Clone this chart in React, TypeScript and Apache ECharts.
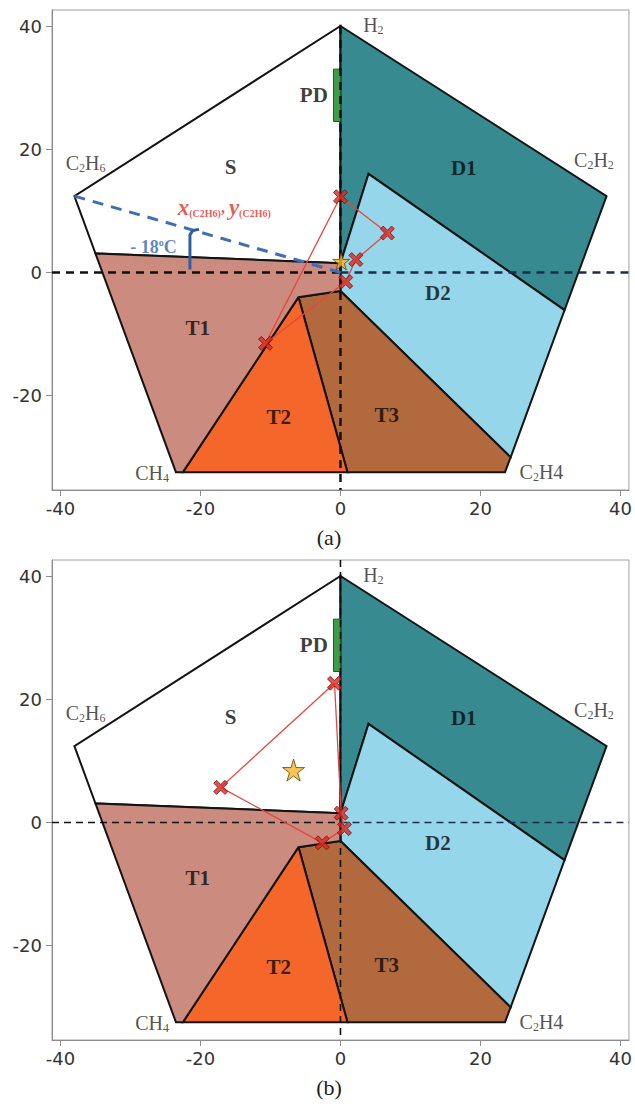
import React, { useEffect, useRef } from 'react';
import * as echarts from 'echarts';

// Axis extents and tick marks (shared by both panels)
const X_RANGE = [-41.2, 41.2];
const Y_RANGE = [-35.3, 42.6];
const X_TICKS = [-40, -20, 0, 20, 40];
const Y_TICKS = [-20, 0, 20, 40];

// Duval pentagon fault zones
const ZONE_NAMES = ['S', 'D1', 'D2', 'T3', 'T2', 'T1', 'PD'];
const ZONE_COLORS = ['#ffffff', '#378a90', '#95d6eb', '#b3693e', '#f4662a', '#cb8b7e', '#3f9a4a'];
const ZONE_POINTS = [
  [[0, 1.5], [-35, 3.1], [-38, 12.4], [0, 40]],
  [[0, 40], [38, 12.4], [32, -6.1], [4, 16], [0, 1.5]],
  [[4, 16], [32, -6.1], [24.3, -30], [0, -3], [0, 1.5]],
  [[0, -3], [24.3, -30], [23.5, -32.4], [1, -32.4], [-6, -4]],
  [[-6, -4], [1, -32.4], [-22.5, -32.4]],
  [[-6, -4], [-22.5, -32.4], [-23.5, -32.4], [-35, 3.1], [0, 1.5], [0, -3]],
  [[-1, 33], [0, 33], [0, 24.5], [-1, 24.5]],
];
const ZONE_LABEL_X = [-15.7, 17.6, 13.9, 6.6, -8.8, -20.4, -3.8];
const ZONE_LABEL_Y = [17.1, 16.9, -3.4, -23.1, -23.4, -9.0, 28.8];

// Gas vertices of the pentagon
const VERTEX_TEXT = ['{n|H}{s|2}', '{n|C}{s|2}{n|H}{s|2}', '{n|C}{s|2}{n|H}{s|6}', '{n|CH}{s|4}', '{n|C}{s|2}{n|H4}'];
const VERTEX_X = [4.7, 36.2, -36.4, -26.9, 28.7];
const VERTEX_Y = [40.1, 18.2, 17.7, -32.5, -32.3];

// Gas points and centroid, panel (a)
const PTS_A_X = [0.0, 6.7, 2.2, 0.75, -10.7];
const PTS_A_Y = [12.3, 6.4, 2.1, -1.5, -11.5];
const STAR_A = [0.1, 1.8];

// Gas points and centroid, panel (b)
const PTS_B_X = [-0.85, -17.1, -2.6, 0.57, 0.1];
const PTS_B_Y = [22.6, 5.7, -3.3, -1.0, 1.5];
const STAR_B = [-6.7, 8.5];

// C2H6 axis and angle mark, panel (a)
const C2H6_AXIS = [[-38, 12.4], [0, 0]];
const ANGLE_MARK = [[-21.5, 0.5], [-21.5, 6.1], [-21.1, 6.8], [-20.2, 7.0]];
const ANGLE_LABEL = [-26.7, 4.1];
const COORD_LABEL = [-16.6, 10.6];

const CAPTIONS = ['(a)', '(b)'];
const GRID_TOPS = [10, 560];
const GRID_HEIGHT = 480;

const X_SYMBOL = 'path://M0,2 L2,0 L5,3 L8,0 L10,2 L7,5 L10,8 L8,10 L5,7 L2,10 L0,8 L3,5 Z';
const STAR_SYMBOL = 'path://M50,0 L61,35 L98,35 L68,57 L79,91 L50,70 L21,91 L32,57 L2,35 L39,35 Z';

const SERIF = '"Liberation Serif", "Times New Roman", serif';

function panelSeries(p: number): any[] {
  const ax = { xAxisIndex: p, yAxisIndex: p };
  const xs = p === 0 ? PTS_A_X : PTS_B_X;
  const ys = p === 0 ? PTS_A_Y : PTS_B_Y;
  const star = p === 0 ? STAR_A : STAR_B;
  const ring = xs.map((x, i) => [x, ys[i]]);
  ring.push([xs[0], ys[0]]);
  const dashW = p === 0 ? 2.5 : 1.6;
  const dashT = p === 0 ? [8, 6] : [7, 5];
  const yTop = p === 0 ? 40 : Y_RANGE[1];

  const series: any[] = [
    {
      type: 'custom',
      ...ax,
      silent: true,
      z: 1,
      data: ZONE_NAMES.map((_, i) => [i, 0]),
      renderItem: (params: any, api: any) => {
        const i = params.dataIndex;
        return {
          type: 'polygon',
          shape: { points: ZONE_POINTS[i].map((pt) => api.coord(pt)) },
          style: {
            fill: ZONE_COLORS[i],
            stroke: i === 6 ? '#1f5a27' : '#141414',
            lineWidth: i === 6 ? 1 : 2,
          },
        };
      },
    },
    {
      type: 'line', ...ax, silent: true, z: 3, symbol: 'none',
      data: [[0, yTop], [0, Y_RANGE[0]]],
      lineStyle: { color: '#111', width: dashW, type: dashT },
    },
    {
      type: 'line', ...ax, silent: true, z: 3, symbol: 'none',
      data: [[X_RANGE[0], 0], [0, 0]],
      lineStyle: { color: '#111', width: dashW, type: dashT },
    },
    {
      type: 'line', ...ax, silent: true, z: 3, symbol: 'none',
      data: [[0, 0], [X_RANGE[1], 0]],
      lineStyle: { color: '#1c2d50', width: dashW, type: dashT },
    },
  ];

  if (p === 0) {
    series.push(
      {
        type: 'line', ...ax, silent: true, z: 4, symbol: 'none',
        data: C2H6_AXIS,
        lineStyle: { color: '#3d6fb6', width: 3, type: [11, 8] },
      },
      {
        type: 'line', ...ax, silent: true, z: 4, symbol: 'none',
        data: ANGLE_MARK,
        lineStyle: { color: '#2f5f9e', width: 3 },
      },
      {
        type: 'scatter', ...ax, silent: true, z: 8, symbolSize: 1,
        itemStyle: { color: 'rgba(0,0,0,0)' },
        data: [
          {
            value: ANGLE_LABEL,
            label: {
              show: true, position: 'inside',
              formatter: '{t|- 18}{sup|o}{t|C}',
              rich: {
                t: { fontFamily: SERIF, fontWeight: 'bold', fontSize: 18, color: '#3565ad', lineHeight: 20 },
                sup: { fontFamily: SERIF, fontWeight: 'bold', fontSize: 10, color: '#3565ad', lineHeight: 10, verticalAlign: 'top' },
              },
            },
          },
          {
            value: COORD_LABEL,
            label: {
              show: true, position: 'inside',
              formatter: '{v|x}{s|(C2H6)}{c|, }{v|y}{s|(C2H6)}',
              rich: {
                v: { fontFamily: SERIF, fontStyle: 'italic', fontWeight: 'bold', fontSize: 23, color: '#e5321f', lineHeight: 22 },
                s: { fontFamily: SERIF, fontWeight: 'bold', fontSize: 10, color: '#e5321f', lineHeight: 12, verticalAlign: 'bottom' },
                c: { fontFamily: SERIF, fontWeight: 'bold', fontSize: 16, color: '#e5321f', lineHeight: 22 },
              },
            },
          },
        ],
      }
    );
  }

  series.push(
    {
      type: 'line', ...ax, silent: true, z: 5, symbol: 'none',
      data: ring,
      lineStyle: { color: '#e8453c', width: 1.3 },
    },
    {
      type: 'scatter', ...ax, silent: true, z: 6,
      symbol: STAR_SYMBOL, symbolSize: p === 0 ? 17 : 22,
      itemStyle: { color: '#f6b42a', borderColor: '#5c4308', borderWidth: 1 },
      data: [star],
    },
    {
      type: 'scatter', ...ax, silent: true, z: 7,
      symbol: X_SYMBOL, symbolSize: 14,
      itemStyle: { color: '#d8291f', borderColor: '#7a0f0f', borderWidth: 1 },
      data: xs.map((x, i) => [x, ys[i]]),
    },
    {
      type: 'scatter', ...ax, silent: true, z: 8, symbolSize: 1,
      itemStyle: { color: 'rgba(0,0,0,0)' },
      data: ZONE_NAMES.map((n, i) => ({
        value: [ZONE_LABEL_X[i], ZONE_LABEL_Y[i]],
        label: {
          show: true, position: 'inside', formatter: n,
          fontFamily: SERIF, fontWeight: 'bold', fontSize: 21, color: '#0a0a0a',
        },
      })),
    },
    {
      type: 'scatter', ...ax, silent: true, z: 8, symbolSize: 1,
      itemStyle: { color: 'rgba(0,0,0,0)' },
      data: VERTEX_TEXT.map((t, i) => ({
        value: [VERTEX_X[i], VERTEX_Y[i]],
        label: {
          show: true, position: 'inside', formatter: t,
          rich: {
            n: { fontFamily: SERIF, fontSize: 20, color: '#262626', lineHeight: 22 },
            s: { fontFamily: SERIF, fontSize: 12, color: '#262626', lineHeight: 12, verticalAlign: 'bottom' },
          },
        },
      })),
    }
  );
  return series;
}

export default function App() {
  const ref = useRef<HTMLDivElement>(null);

  useEffect(() => {
    if (!ref.current) return;
    const chart = echarts.init(ref.current, null, { renderer: 'svg' });
    const axisColor = '#8c8c8c';
    const labelStyle = { fontFamily: '"DejaVu Sans", Arial, sans-serif', fontSize: 18, color: '#333' };

    chart.setOption({
      animation: false,
      backgroundColor: '#ffffff',
      grid: GRID_TOPS.map((top) => ({
        left: 52, top, width: 580, height: GRID_HEIGHT,
        show: true, borderColor: '#a0a0a0', borderWidth: 1, backgroundColor: 'transparent',
      })),
      xAxis: GRID_TOPS.map((_, i) => ({
        type: 'value', gridIndex: i, min: X_RANGE[0], max: X_RANGE[1],
        axisLine: { show: true, onZero: false, lineStyle: { color: axisColor } },
        axisTick: { show: true, length: 6, customValues: X_TICKS, lineStyle: { color: axisColor } },
        axisLabel: { ...labelStyle, margin: 9, customValues: X_TICKS },
        splitLine: { show: false },
      })),
      yAxis: GRID_TOPS.map((_, i) => ({
        type: 'value', gridIndex: i, min: Y_RANGE[0], max: Y_RANGE[1],
        axisLine: { show: true, onZero: false, lineStyle: { color: axisColor } },
        axisTick: { show: true, length: 6, customValues: Y_TICKS, lineStyle: { color: axisColor } },
        axisLabel: { ...labelStyle, margin: 10, customValues: Y_TICKS },
        splitLine: { show: false },
      })),
      graphic: CAPTIONS.map((c, i) => ({
        type: 'text',
        x: 329,
        y: GRID_TOPS[i] + GRID_HEIGHT + 47,
        style: {
          text: c,
          align: 'center',
          verticalAlign: 'middle',
          font: '22px "Liberation Serif", serif',
          fill: '#222',
        },
      })),
      series: [...panelSeries(0), ...panelSeries(1)],
    });

    return () => chart.dispose();
  }, []);

  return (
    <div
      ref={ref}
      style={{ position: 'absolute', left: 0, top: 0, width: 635, height: 1111, background: '#fff' }}
    />
  );
}
